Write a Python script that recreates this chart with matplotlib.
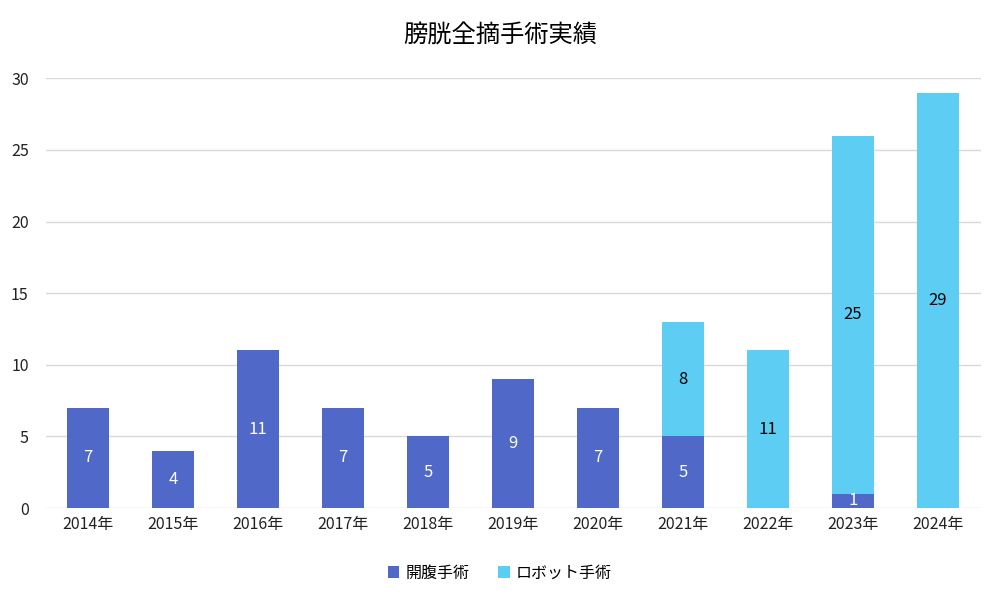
import matplotlib

matplotlib.use("Agg")
import matplotlib.pyplot as plt

plt.rcParams["font.family"] = ["Noto Sans CJK JP", "DejaVu Sans"]

years = ["2014年", "2015年", "2016年", "2017年", "2018年", "2019年",
         "2020年", "2021年", "2022年", "2023年", "2024年"]
open_surgery = [7, 4, 11, 7, 5, 9, 7, 5, 0, 1, 0]
robot_surgery = [0, 0, 0, 0, 0, 0, 0, 8, 11, 25, 29]

dark = "#5068C8"
light = "#5ECDF4"

fig = plt.figure(figsize=(10, 6.02), dpi=100)
ax = fig.add_axes([0.0455, 0.156, 0.935, 0.714])

x = range(len(years))
ax.bar(x, open_surgery, width=0.5, color=dark, label="開腹手術", zorder=2)
ax.bar(x, robot_surgery, width=0.5, bottom=open_surgery, color=light,
       label="ロボット手術", zorder=2)

for i, (o, r) in enumerate(zip(open_surgery, robot_surgery)):
    if o:
        ax.text(i, o / 2, str(o), ha="center", va="center", color="white", fontsize=12)
    if r:
        ax.text(i, o + r / 2, str(r), ha="center", va="center", color="black", fontsize=12)

ax.set_xlim(-0.5, len(years) - 0.5)
ax.set_ylim(0, 30)
ax.set_yticks(range(0, 31, 5))
ax.set_xticks(list(x))
ax.set_xticklabels(years)
ax.grid(axis="y", color="#d9d9d9", linewidth=1, zorder=0)
for s in ax.spines.values():
    s.set_visible(False)
ax.tick_params(length=0, labelsize=11.5, colors="#222222", pad=6)
ax.tick_params(axis="y", pad=12)

fig.suptitle("膀胱全摘手術実績", y=0.962, fontsize=17.5)
fig.legend(loc="center", bbox_to_anchor=(0.5, 0.048), ncol=2, frameon=False,
           fontsize=11.5, handlelength=0.7, handleheight=0.7, handletextpad=0.4,
           columnspacing=1.8)

fig.savefig("out.png", dpi=100)
